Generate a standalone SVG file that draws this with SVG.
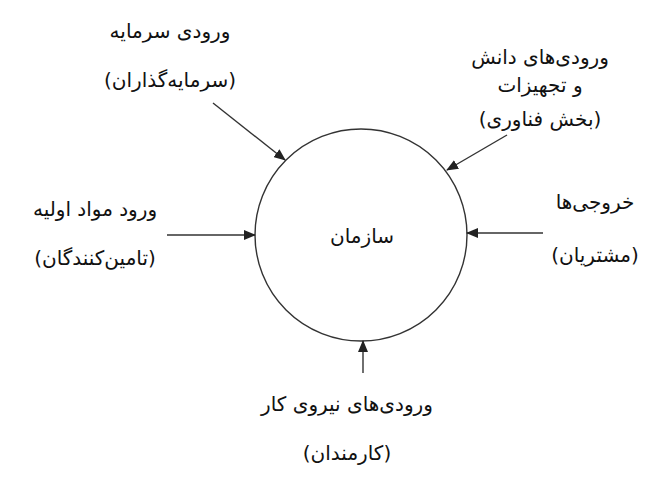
<svg xmlns="http://www.w3.org/2000/svg" width="671" height="488" viewBox="0 0 671 488">
<style>
text{font-family:"DejaVu Sans","Noto Sans",sans-serif;font-size:20px;fill:#111;text-anchor:middle;direction:rtl}
.c{stroke:#333;stroke-width:1.4;fill:none}
</style>
<defs>
<marker id="ah" markerWidth="12" markerHeight="10" refX="11" refY="5" orient="auto" markerUnits="userSpaceOnUse">
<path d="M0,0 L12,5 L0,10 Z" fill="#222"/>
</marker>
</defs>
<rect width="671" height="488" fill="#fff"/>
<g id="org">
<circle cx="361" cy="235" r="106" fill="none" stroke="#333" stroke-width="1.4"/>
<text x="362" y="243">سازمان</text>
</g>
<g id="capital">
<text x="170" y="38">ورودی سرمایه</text>
<text x="170" y="87">(سرمایه‌گذاران)</text>
</g>
<g id="knowledge">
<text x="540" y="64">ورودی‌های دانش</text>
<text x="540" y="92">و تجهیزات</text>
<text x="540" y="126">(بخش فناوری)</text>
</g>
<g id="materials">
<text x="95" y="216">ورود مواد اولیه</text>
<text x="95" y="265">(تامین‌کنندگان)</text>
</g>
<g id="outputs">
<text x="595" y="209">خروجی‌ها</text>
<text x="595" y="262">(مشتریان)</text>
</g>
<g id="labor">
<text x="347" y="411">ورودی‌های نیروی کار</text>
<text x="347" y="460">(کارمندان)</text>
</g>
<g id="connectors">
<line class="c" x1="213" y1="103" x2="285" y2="160" marker-end="url(#ah)"/>
<line class="c" x1="507" y1="135" x2="447" y2="170" marker-end="url(#ah)"/>
<line class="c" x1="167" y1="235" x2="255" y2="235" marker-end="url(#ah)"/>
<line class="c" x1="543" y1="233" x2="467" y2="233" marker-end="url(#ah)"/>
<line class="c" x1="363" y1="373" x2="363" y2="341" marker-end="url(#ah)"/>
</g>
</svg>
